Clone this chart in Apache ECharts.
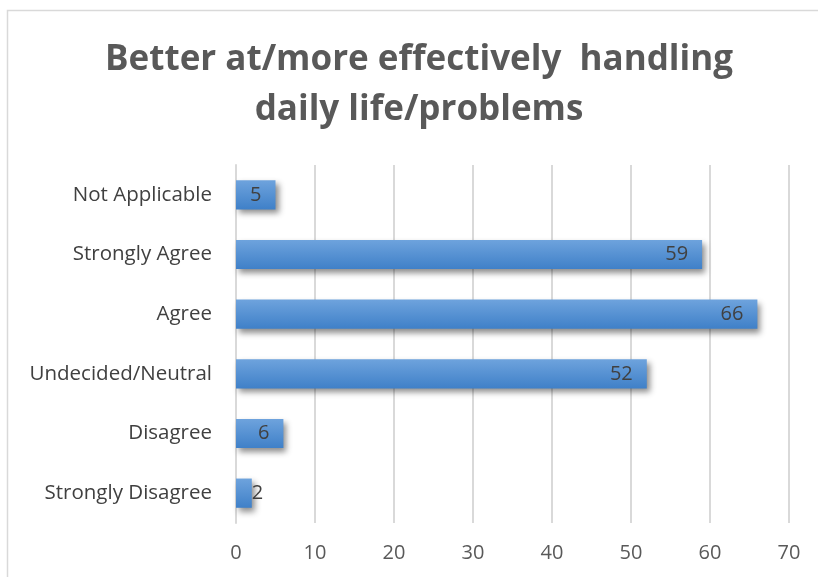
<!DOCTYPE html>
<html>
<head>
<meta charset="utf-8">
<script src="https://cdn.jsdelivr.net/npm/echarts@6/dist/echarts.min.js"></script>
<style>
html,body{margin:0;padding:0;background:#fff;}
#chart{width:818px;height:577px;}
</style>
</head>
<body>
<div id="chart"></div>
<script>
const titleText = "Better at/more effectively  handling\ndaily life/problems";
const categories = ["Strongly Disagree", "Disagree", "Undecided/Neutral", "Agree", "Strongly Agree", "Not Applicable"];
const values = [2, 6, 52, 66, 59, 5];
const xTicks = { min: 0, max: 70, interval: 10 };

const chart = echarts.init(document.getElementById('chart'), null, { renderer: 'canvas' });
const font = "'Open Sans', 'Liberation Sans', sans-serif";
const textColor = '#404040';

chart.setOption({
  backgroundColor: '#ffffff',
  animation: false,
  graphic: [{
    type: 'rect',
    left: 5, top: 8,
    shape: { width: 900, height: 700 },
    style: { fill: 'none', stroke: '#d9d9d9', lineWidth: 1.5 },
    silent: true,
    z: -10
  }],
  title: {
    text: titleText,
    left: 414,
    top: 30,
    textAlign: 'center',
    textStyle: {
      fontFamily: font,
      fontWeight: 'bold',
      fontSize: 35,
      color: '#595959',
      lineHeight: 50
    }
  },
  grid: { left: 236, right: 29, top: 165, bottom: 54, containLabel: false },
  xAxis: {
    type: 'value',
    min: xTicks.min, max: xTicks.max, interval: xTicks.interval,
    axisLine: { show: false },
    axisTick: { show: false },
    axisLabel: { fontFamily: font, fontSize: 20, color: '#595959', margin: 20 },
    splitLine: { show: true, lineStyle: { color: '#d9d9d9', width: 2 } }
  },
  yAxis: {
    type: 'category',
    data: categories,
    axisLine: { show: true, lineStyle: { color: '#d9d9d9', width: 2 } },
    axisTick: { show: false },
    axisLabel: { fontFamily: font, fontSize: 20.5, color: textColor, margin: 24 }
  },
  series: [{
    type: 'bar',
    barWidth: '49%',
    data: values.map(v => ({
      value: v,
      label: v < 4
        ? { position: 'right', distance: 0 }
        : { position: 'insideRight', distance: 14 }
    })),
    itemStyle: {
      color: new echarts.graphic.LinearGradient(0, 0, 0, 1, [
        { offset: 0, color: '#6ea3dd' },
        { offset: 1, color: '#3f80c8' }
      ]),
      shadowColor: 'rgba(0,0,0,0.45)',
      shadowBlur: 6,
      shadowOffsetX: 3,
      shadowOffsetY: 4
    },
    label: {
      show: true,
      fontFamily: font,
      fontSize: 20,
      color: textColor
    }
  }]
});
</script>
</body>
</html>
